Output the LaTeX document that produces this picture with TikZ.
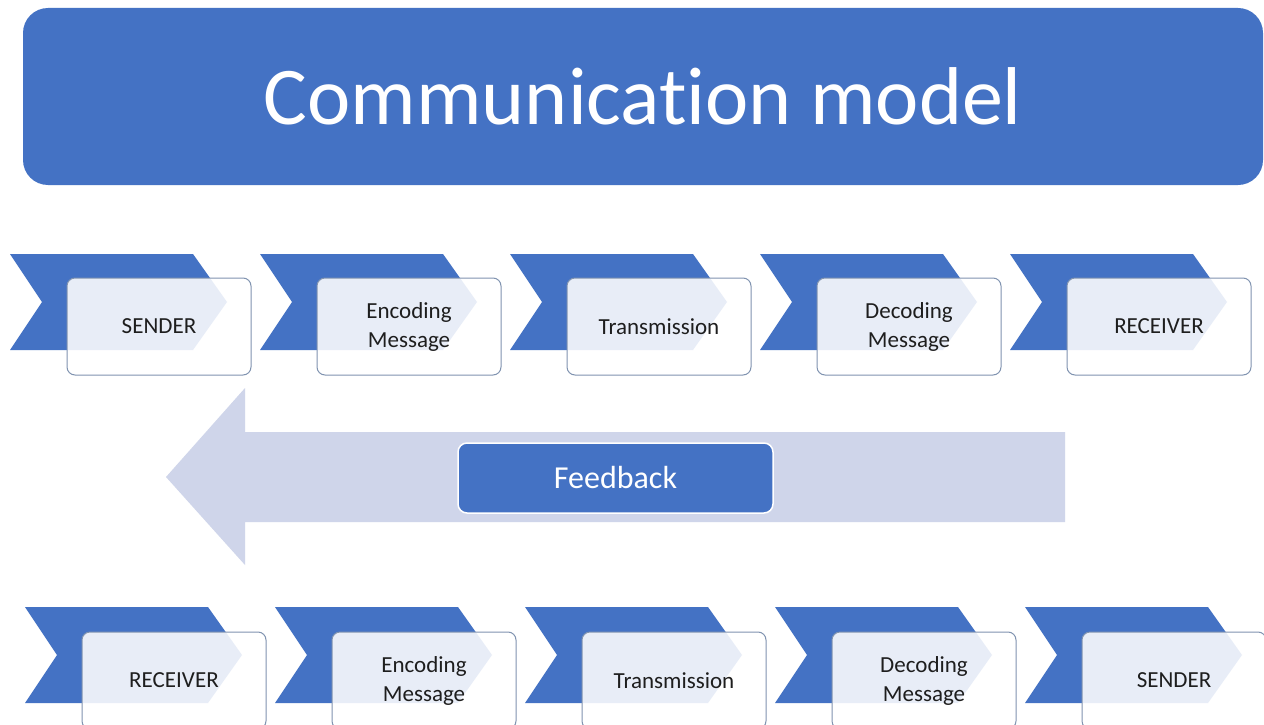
\documentclass[tikz,border=0pt]{standalone}
\usepackage{fontspec}
\setmainfont[RawFeature=-liga]{Carlito}

\definecolor{smblue}{HTML}{4472C4}
\definecolor{smpale}{HTML}{CFD5EA}
\definecolor{smedge}{HTML}{8093B0}
\definecolor{smtext}{HTML}{1E1E1E}

\begin{document}
\begin{tikzpicture}[
    x=1pt, y=-1pt,
    chev/.pic={\fill[smblue] (0,0) -- (183,0) -- (217,48) -- (183,96) -- (0,96) -- (32,48) -- cycle;},
    stepbox/.style={rectangle, rounded corners=8pt, draw=smedge, line width=1pt,
                    fill=white, fill opacity=0.88, text opacity=1, text=smtext,
                    minimum width=184pt, minimum height=97pt, align=center,
                    font=\fontsize{23}{29}\selectfont},
    banner/.style={rectangle, rounded corners=25pt, fill=smblue, text=white,
                   minimum width=1240pt, minimum height=177pt,
                   font=\fontsize{82}{98}\selectfont},
    fb/.style={rectangle, rounded corners=9pt, fill=smblue, draw=white, line width=1.5pt,
               text=white, minimum width=315pt, minimum height=70pt,
               font=\fontsize{32}{38}\selectfont},
  ]
  \clip (0,0) rectangle (1264,725);
  \fill[white] (0,0) rectangle (1264,725);

  \node[banner] (title) at (643,96.5) {Communication model};

  % upper row
  \pic at (10,254) {chev};
  \pic at (260,254) {chev};
  \pic at (510,254) {chev};
  \pic at (760,254) {chev};
  \pic at (1010,254) {chev};
  \node[stepbox] (up1) at (159,326.5) {SENDER};
  \node[stepbox] (up2) at (409,326.5) {Encoding\\Message};
  \node[stepbox] (up3) at (659,326.5) {Transmission};
  \node[stepbox] (up4) at (909,326.5) {Decoding\\Message};
  \node[stepbox] (up5) at (1159,326.5) {RECEIVER};

  % feedback arrow
  \fill[smpale] (1065,432) -- (245,432) -- (245,388) -- (166,477)
    -- (245,565) -- (245,522) -- (1065,522) -- cycle;
  \node[fb] (feedback) at (615.5,478) {Feedback};

  % lower row
  \pic at (25,607) {chev};
  \pic at (275,607) {chev};
  \pic at (525,607) {chev};
  \pic at (775,607) {chev};
  \pic at (1025,607) {chev};
  \node[stepbox] (lo1) at (174,680.5) {RECEIVER};
  \node[stepbox] (lo2) at (424,680.5) {Encoding\\Message};
  \node[stepbox] (lo3) at (674,680.5) {Transmission};
  \node[stepbox] (lo4) at (924,680.5) {Decoding\\Message};
  \node[stepbox] (lo5) at (1174,680.5) {SENDER};
\end{tikzpicture}
\end{document}
